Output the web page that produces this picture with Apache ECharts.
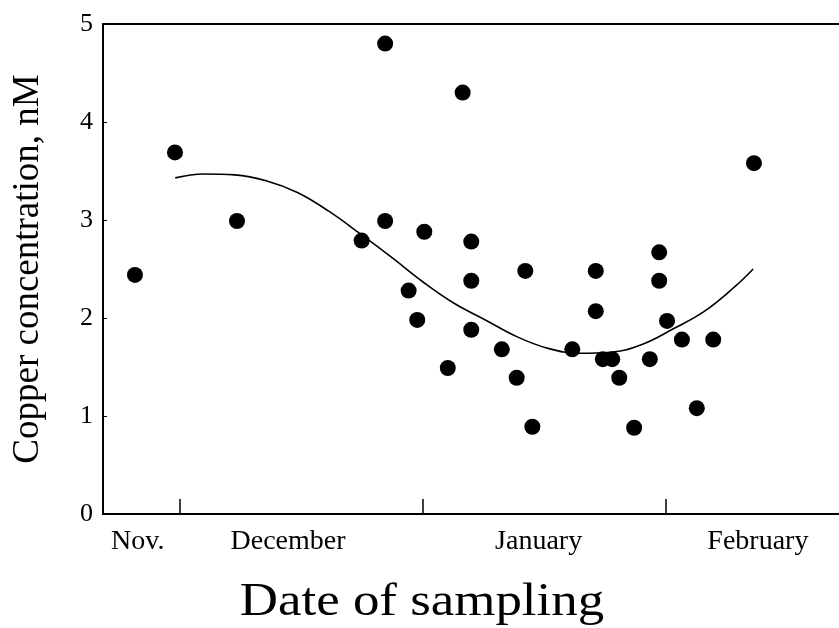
<!DOCTYPE html>
<html>
<head>
<meta charset="utf-8">
<script src="https://cdn.jsdelivr.net/npm/echarts@6/dist/echarts.min.js"></script>
<style>html,body{margin:0;padding:0;background:#fff;}#c{width:839px;height:628px;}</style>
</head>
<body>
<div id="c"></div>
<script>
// x values are days counted from 1 December
var monthTickDays = [0, 31, 62];
var monthLabelDays = [-5.4, 13.8, 45.8, 73.8];
var monthLabels = ['Nov.', 'December', 'January', 'February'];
var yTicks = [0, 1, 2, 3, 4, 5];

var sampleDays = [-5.75, -0.64, 7.28, 23.2, 26.2, 26.2, 29.2, 30.3, 31.2, 34.2, 36.1, 37.2, 37.2, 37.2, 41.1, 43.0, 44.1, 45.0, 50.1, 53.1, 53.1, 54.0, 55.2, 56.1, 58.0, 60.0, 61.2, 61.2, 62.2, 64.1, 66.0, 68.1, 73.3];
var copperValues = [2.44, 3.69, 2.99, 2.79, 4.80, 2.99, 2.28, 1.98, 2.88, 1.49, 4.30, 2.78, 2.38, 1.88, 1.68, 1.39, 2.48, 0.89, 1.68, 2.48, 2.07, 1.58, 1.58, 1.39, 0.88, 1.58, 2.67, 2.38, 1.97, 1.78, 1.08, 1.78, 3.58];

var fitDays = [-0.6, 3, 7, 11, 15, 19, 23, 27, 31, 35, 39, 43, 47, 51, 55, 59, 63, 67, 71, 73.2];
var fitValues = [3.43, 3.47, 3.46, 3.40, 3.28, 3.09, 2.86, 2.62, 2.37, 2.15, 1.98, 1.81, 1.69, 1.64, 1.65, 1.73, 1.89, 2.07, 2.33, 2.50];

var font = '"Liberation Serif", "DejaVu Serif", serif';
var chart = echarts.init(document.getElementById('c'));
var scatterData = sampleDays.map(function (d, i) { return [d, copperValues[i]]; });
var fitData = fitDays.map(function (d, i) { return [d, fitValues[i]]; });

chart.setOption({
  animation: false,
  backgroundColor: '#fff',
  grid: { left: 103, right: 0, top: 24, bottom: 114 },
  xAxis: [{
    type: 'value', min: -9.83, max: 84.16, position: 'bottom',
    axisLine: { show: true, onZero: false, lineStyle: { color: '#000', width: 2 } },
    axisTick: { show: true, inside: true, length: 15, customValues: monthTickDays, lineStyle: { color: '#000', width: 1.5 } },
    axisLabel: {
      show: true, customValues: monthLabelDays, margin: 14,
      fontFamily: font, fontSize: 28, color: '#000',
      formatter: function (v) {
        for (var i = 0; i < monthLabelDays.length; i++) { if (Math.abs(monthLabelDays[i] - v) < 0.01) return monthLabels[i]; }
        return '';
      }
    },
    splitLine: { show: false }
  }, {
    type: 'value', min: -9.83, max: 84.16, position: 'top',
    axisLine: { show: true, onZero: false, lineStyle: { color: '#000', width: 2 } },
    axisTick: { show: false }, axisLabel: { show: false }, splitLine: { show: false }
  }],
  yAxis: {
    type: 'value', min: 0, max: 5, interval: 1,
    name: 'Copper concentration, nM', nameLocation: 'middle', nameGap: 56,
    nameTextStyle: { fontFamily: font, fontSize: 37, color: '#000' },
    axisLine: { show: true, onZero: false, lineStyle: { color: '#000', width: 2 } },
    axisTick: { show: true, inside: true, length: 4, lineStyle: { color: '#000', width: 1 } },
    axisLabel: { margin: 10, fontFamily: font, fontSize: 26, color: '#000' },
    splitLine: { show: false }
  },
  graphic: [{
    type: 'text', x: 422, y: 603, scaleX: 1.15,
    style: { text: 'Date of sampling', x: 0, y: 0, align: 'center', verticalAlign: 'middle', fontFamily: font, fontSize: 46, fill: '#000' }
  }],
  series: [{
    type: 'line', data: fitData, smooth: 0.4, showSymbol: false, symbol: 'none',
    lineStyle: { color: '#000', width: 1.6 }, z: 2
  }, {
    type: 'scatter', data: scatterData, symbol: 'circle', symbolSize: 16,
    itemStyle: { color: '#000', opacity: 1 }, z: 3
  }]
});
</script>
</body>
</html>
